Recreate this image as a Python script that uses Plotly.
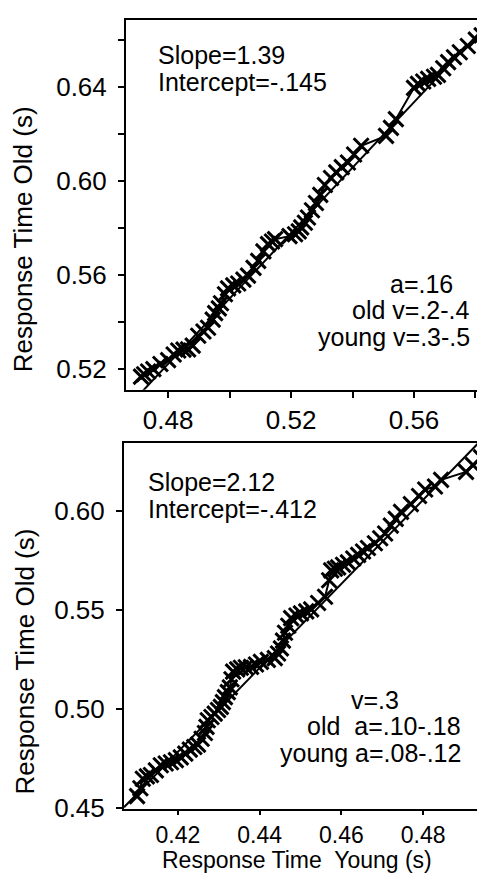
import plotly.graph_objects as go

# ---- data ----
top_x = [0.4712, 0.4722, 0.4735, 0.4752, 0.4775, 0.4800, 0.4818, 0.4833, 0.4850, 0.4865,
         0.4880, 0.4898, 0.4915, 0.4930, 0.4945, 0.4953, 0.4965, 0.4972, 0.4985, 0.4995,
         0.5012, 0.5028, 0.5045, 0.5060, 0.5078, 0.5093, 0.5110, 0.5125, 0.5138, 0.5148,
         0.5195, 0.5213, 0.5225, 0.5233, 0.5245, 0.5255, 0.5268, 0.5281, 0.5295, 0.5310,
         0.5330, 0.5347, 0.5365, 0.5385, 0.5405, 0.5428, 0.5509, 0.5525, 0.5541, 0.5600,
         0.5613, 0.5630, 0.5646, 0.5665, 0.5678, 0.5695, 0.5711, 0.5730, 0.5749, 0.5775,
         0.5801, 0.5820, 0.5834]
top_y = [0.5168, 0.5178, 0.5190, 0.5200, 0.5222, 0.5238, 0.5262, 0.5279, 0.5283, 0.5284,
         0.5300, 0.5342, 0.5360, 0.5376, 0.5410, 0.5438, 0.5458, 0.5480, 0.5518, 0.5543,
         0.5556, 0.5564, 0.5580, 0.5597, 0.5630, 0.5660, 0.5700, 0.5731, 0.5742, 0.5752,
         0.5765, 0.5773, 0.5785, 0.5802, 0.5822, 0.5844, 0.5875, 0.5906, 0.5940, 0.5982,
         0.6012, 0.6036, 0.6058, 0.6078, 0.6112, 0.6149, 0.6191, 0.6225, 0.6262, 0.6395,
         0.6412, 0.6422, 0.6433, 0.6442, 0.6450, 0.6478, 0.6504, 0.6525, 0.6546, 0.6573,
         0.6600, 0.6618, 0.6630]
top_slope = 1.39
top_intercept = -0.145

bot_x = [0.4100, 0.4108, 0.4114, 0.4124, 0.4134, 0.4146, 0.4158, 0.4170, 0.4183, 0.4195,
         0.4207, 0.4218, 0.4229, 0.4240, 0.4249, 0.4258, 0.4266, 0.4270, 0.4273, 0.4282,
         0.4290, 0.4298, 0.4305, 0.4310, 0.4315, 0.4322, 0.4327, 0.4331, 0.4335, 0.4345,
         0.4354, 0.4366, 0.4379, 0.4391, 0.4403, 0.4420, 0.4437, 0.4445, 0.4452, 0.4457,
         0.4462, 0.4470, 0.4477, 0.4490, 0.4501, 0.4514, 0.4526, 0.4543, 0.4560, 0.4570,
         0.4575, 0.4584, 0.4592, 0.4604, 0.4616, 0.4629, 0.4641, 0.4653, 0.4665, 0.4682,
         0.4695, 0.4707, 0.4721, 0.4733, 0.4746, 0.4770, 0.4790, 0.4805, 0.4829, 0.4844,
         0.4905, 0.4922, 0.4942]
bot_y = [0.4560, 0.4600, 0.4648, 0.4660, 0.4667, 0.4690, 0.4716, 0.4725, 0.4731, 0.4742,
         0.4756, 0.4775, 0.4795, 0.4808, 0.4820, 0.4850, 0.4879, 0.4910, 0.4943, 0.4960,
         0.4977, 0.4995, 0.5011, 0.5035, 0.5060, 0.5085, 0.5109, 0.5150, 0.5189, 0.5200,
         0.5208, 0.5211, 0.5213, 0.5225, 0.5238, 0.5248, 0.5257, 0.5280, 0.5306, 0.5345,
         0.5385, 0.5420, 0.5459, 0.5472, 0.5483, 0.5493, 0.5503, 0.5535, 0.5567, 0.5650,
         0.5700, 0.5708, 0.5715, 0.5728, 0.5740, 0.5760, 0.5778, 0.5795, 0.5813, 0.5837,
         0.5862, 0.5886, 0.5926, 0.5960, 0.5995, 0.6034, 0.6075, 0.6108, 0.6123, 0.6157,
         0.6197, 0.6231, 0.6270]
bot_slope = 2.12
bot_intercept = -0.412

top_xrange = [0.4663, 0.5857]
top_yrange = [0.5112, 0.6684]
bot_xrange = [0.4068, 0.4971]
bot_yrange = [0.4495, 0.6343]

FONT = "Liberation Sans, Arial, Helvetica, sans-serif"
W, H = 485, 880

fig = go.Figure()

def add_panel(xs, ys, slope, intercept, xr, xa, ya):
    fig.add_trace(go.Scatter(
        x=xr, y=[slope * v + intercept for v in xr], mode="lines",
        line=dict(color="black", width=2), xaxis=xa, yaxis=ya,
        showlegend=False, hoverinfo="skip"))
    fig.add_trace(go.Scatter(
        x=xs, y=ys, mode="lines+markers",
        line=dict(color="black", width=2),
        marker=dict(symbol="x-thin", size=15, line=dict(color="black", width=3)),
        xaxis=xa, yaxis=ya, showlegend=False))

add_panel(top_x, top_y, top_slope, top_intercept, top_xrange, "x", "y")
add_panel(bot_x, bot_y, bot_slope, bot_intercept, bot_xrange, "x2", "y2")

TICKFONT = dict(family=FONT, size=26, color="black")
axis_common = dict(showline=True, linecolor="black", linewidth=2, ticks="outside",
                   tickwidth=1.5, tickcolor="black", showgrid=False, zeroline=False)

fig.update_layout(
    width=W, height=H, margin=dict(l=0, r=0, t=0, b=0),
    paper_bgcolor="white", plot_bgcolor="white",
    xaxis=dict(domain=[118 / W, 1], anchor="y", range=top_xrange, tick0=0.48, dtick=0.04,
               tickformat=".2f", mirror=True, ticklen=6, tickfont=TICKFONT,
               minor=dict(dtick=0.02, tick0=0.48, ticks="outside", ticklen=6, tickcolor="black"),
               **axis_common),
    yaxis=dict(domain=[1 - 388 / H, 1 - 12 / H], anchor="x", range=top_yrange, tick0=0.52,
               dtick=0.04, tickformat=".2f", ticklabelstandoff=6, ticklen=6, tickfont=TICKFONT,
               minor=dict(dtick=0.02, tick0=0.52, ticks="outside", ticklen=6, tickcolor="black"),
               **axis_common),
    xaxis2=dict(domain=[116 / W, 1], anchor="y2", range=bot_xrange, tick0=0.42, dtick=0.02,
                tickformat=".2f", mirror=True, ticklen=4,
                tickfont=dict(family=FONT, size=23, color="black"), **axis_common),
    yaxis2=dict(domain=[1 - 814 / H, 1 - 442 / H], anchor="x2", range=bot_yrange, tick0=0.45,
                dtick=0.05, tickformat=".2f", ticklabelstandoff=6, ticklen=6, tickfont=TICKFONT,
                **axis_common),
)

def ann(text, px, py, xanchor="left", angle=0, size=25, yanchor="middle", height=None):
    fig.add_annotation(text=text, x=px / W, y=1 - py / H, xref="paper", yref="paper",
                       xanchor=xanchor, yanchor=yanchor, showarrow=False, textangle=angle,
                       borderpad=0, height=height,
                       font=dict(family=FONT, size=size, color="black"))

# top panel texts
ann("Slope=1.39", 149, 48)
ann("Intercept=-.145", 149, 75)
ann("a=.16", 446, 280, "right")
ann("old v=.2-.4", 463, 307, "right")
ann("young v=.3-.5", 463, 334, "right")
ann("Response Time Old (s)", 15, 235, "center", -90, 26)

# bottom panel texts
ann("Slope=2.12", 139, 482)
ann("Intercept=-.412", 139, 509)
ann("v=.3", 392, 703, "right")
ann("old\u00a0 a=.10-.18", 454, 730, "right")
ann("young a=.08-.12", 454, 757, "right")
ann("Response Time Old (s)", 17, 664, "center", -90, 26)
ann("Response Time\u00a0 Young (s)", 289, 880, "center", 0, 23, "bottom", 26)

fig.write_html("out.html", config={"displayModeBar": False})
